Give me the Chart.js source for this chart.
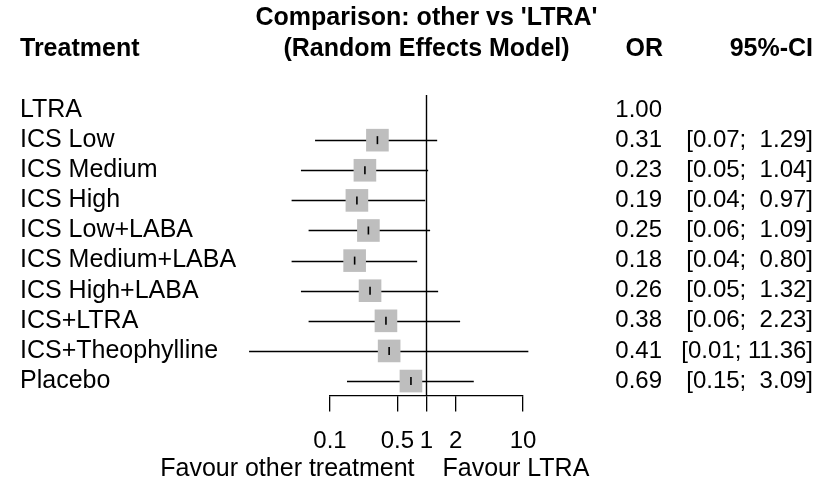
<!DOCTYPE html>
<html>
<head>
<meta charset="utf-8">
<script src="https://cdn.jsdelivr.net/npm/chart.js@4"></script>
<style>
  html, body { margin: 0; padding: 0; background: #ffffff; }
  #wrap { width: 829px; height: 483px; position: relative; }
</style>
</head>
<body>
<div id="wrap"><canvas id="forest"></canvas></div>
<script>
// Network meta-analysis: odds ratios of each treatment against LTRA (random effects)
const treatments = ['LTRA', 'ICS Low', 'ICS Medium', 'ICS High', 'ICS Low+LABA',
  'ICS Medium+LABA', 'ICS High+LABA', 'ICS+LTRA', 'ICS+Theophylline', 'Placebo'];
const oddsRatio = [1.00, 0.31, 0.23, 0.19, 0.25, 0.18, 0.26, 0.38, 0.41, 0.69];
const ciLower   = [null, 0.07, 0.05, 0.04, 0.06, 0.04, 0.05, 0.06, 0.0145, 0.15];
const ciUpper   = [null, 1.29, 1.04, 0.97, 1.09, 0.80, 1.32, 2.23, 11.36, 3.09];
const axisTicks = [0.1, 0.5, 1, 2, 10];
const favourLabels = ['Favour other treatment', 'Favour LTRA'];
const titleLines = ["Comparison: other vs 'LTRA'", '(Random Effects Model)'];

const FONT = '"Liberation Sans", Arial, sans-serif';
const BLACK = '#000000';
const rowIdx = treatments.map((_, i) => i);
const estRows = rowIdx.filter(i => ciLower[i] !== null);
const Y_MIN = -0.5, Y_MAX = 9.48;

function fmtCI(i) {
  if (ciLower[i] === null) return '';
  const lo = ciLower[i].toFixed(2);
  const hi = ciUpper[i].toFixed(2).padStart(5, ' ');
  return '[' + lo + '; ' + hi + ']';
}

// Horizontal confidence-interval whiskers, drawn under the squares
const whiskers = {
  id: 'whiskers',
  beforeDatasetsDraw(chart) {
    const { ctx, scales: { x, y } } = chart;
    ctx.save();
    ctx.strokeStyle = BLACK;
    ctx.lineWidth = 1.3;
    estRows.forEach(i => {
      const py = Math.round(y.getPixelForValue(i)) + 0.5;
      ctx.beginPath();
      ctx.moveTo(x.getPixelForValue(ciLower[i]), py);
      ctx.lineTo(x.getPixelForValue(ciUpper[i]), py);
      ctx.stroke();
    });
    ctx.restore();
  }
};

// Table columns and headings around the plot
const tableText = {
  id: 'tableText',
  afterDraw(chart) {
    const { ctx, scales: { x, y } } = chart;
    ctx.save();
    ctx.fillStyle = BLACK;
    ctx.textBaseline = 'middle';

    ctx.font = 'bold 25px ' + FONT;
    ctx.textAlign = 'center';
    const cx = x.getPixelForValue(1);
    ctx.fillText(titleLines[0], cx, 18);
    ctx.fillText(titleLines[1], cx, 49);
    ctx.textAlign = 'left';
    ctx.fillText('Treatment', 20, 49);
    ctx.textAlign = 'right';
    ctx.fillText('OR', 663, 49);
    ctx.fillText('95%-CI', 813, 49);

    rowIdx.forEach(i => {
      const py = y.getPixelForValue(i);
      ctx.font = '25px ' + FONT;
      ctx.textAlign = 'left';
      ctx.fillText(treatments[i], 20, py);
      ctx.font = '24px ' + FONT;
      ctx.textAlign = 'right';
      ctx.fillText(oddsRatio[i].toFixed(2), 662, py);
      ctx.fillText(fmtCI(i), 813, py);
    });

    ctx.font = '25px ' + FONT;
    ctx.textAlign = 'right';
    ctx.fillText(favourLabels[0], cx - 12, 469);
    ctx.textAlign = 'left';
    ctx.fillText(favourLabels[1], cx + 16, 469);
    ctx.restore();
  }
};

new Chart(document.getElementById('forest'), {
  type: 'scatter',
  data: {
    datasets: [
      {
        label: 'point estimate',
        data: estRows.map(i => ({ x: oddsRatio[i], y: i })),
        pointStyle: 'line',
        rotation: 90,
        pointRadius: 4,
        borderColor: BLACK,
        borderWidth: 1.6,
        clip: false
      },
      {
        label: 'weight',
        data: estRows.map(i => ({ x: oddsRatio[i], y: i })),
        pointStyle: 'rect',
        pointRadius: 16,
        backgroundColor: '#bebebe',
        borderWidth: 0,
        clip: false
      },
      {
        type: 'line',
        label: 'no effect',
        data: [{ x: 1, y: Y_MIN }, { x: 1, y: Y_MAX }],
        borderColor: BLACK,
        borderWidth: 1.4,
        pointRadius: 0,
        clip: false
      }
    ]
  },
  options: {
    responsive: true,
    maintainAspectRatio: false,
    animation: false,
    events: [],
    layout: { padding: { left: 330, right: 306, top: 95, bottom: 0 } },
    plugins: { legend: { display: false }, tooltip: { enabled: false } },
    scales: {
      x: {
        type: 'logarithmic',
        min: 0.1,
        max: 10,
        afterBuildTicks: s => { s.ticks = axisTicks.map(v => ({ value: v })); },
        afterFit: s => { s.height = 483 - 395.5; },
        ticks: {
          autoSkip: false,
          maxRotation: 0,
          padding: 15,
          color: BLACK,
          font: { family: FONT, size: 24 },
          callback: v => String(v)
        },
        grid: { drawOnChartArea: false, drawTicks: true, tickLength: 16, color: BLACK, lineWidth: 1.3 },
        border: { display: true, color: BLACK, width: 1.3 }
      },
      y: {
        type: 'linear',
        reverse: true,
        min: Y_MIN,
        max: Y_MAX,
        display: false
      }
    }
  },
  plugins: [whiskers, tableText]
});
</script>
</body>
</html>
